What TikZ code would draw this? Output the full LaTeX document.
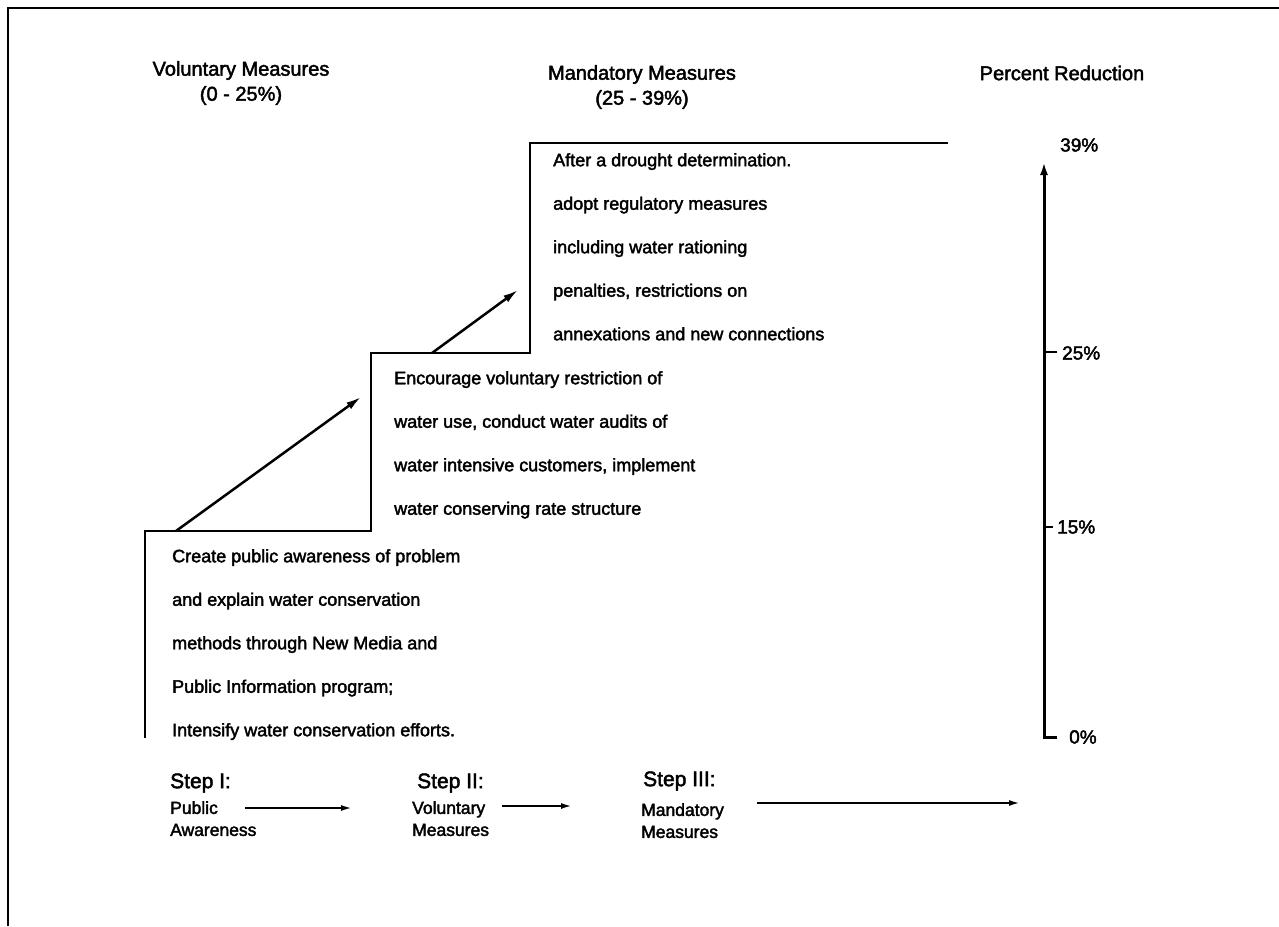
\documentclass[tikz,border=0pt]{standalone}
\usepackage{fontspec}
\setmainfont{Liberation Sans}[FakeBold=2.2]
\usetikzlibrary{arrows.meta}

\tikzset{
  head/.style={font=\fontsize{20}{25}\selectfont, align=center},
  body/.style={font=\fontsize{18}{43.5}\selectfont, align=left, anchor=north west, inner sep=0pt},
  pct/.style={font=\fontsize{19}{22}\selectfont, anchor=west, inner sep=0pt},
  steptitle/.style={font=\fontsize{21}{24}\selectfont, anchor=west, inner sep=0pt},
  stepsub/.style={font=\fontsize{17.5}{22}\selectfont, align=left, anchor=north west, inner sep=0pt},
  stair/.style={line width=2pt},
  rise/.style={line width=2.5pt, -{Latex[length=15pt,width=8pt]}},
  flow/.style={line width=2pt, -{Latex[length=11pt,width=6pt]}}
}

\begin{document}
\begin{tikzpicture}[x=1pt,y=-1pt]
\useasboundingbox (0,0) rectangle (1279,926);
% Frame
\draw[line width=2.5pt] (8,926) -- (8,8) -- (1279,8);
% Headings
\node[head] (volhead) at (241,83) {Voluntary Measures\\(0 - 25\%)};
\node[head] (manhead) at (642,87) {Mandatory Measures\\(25 - 39\%)};
\node[head] (pcthead) at (1062,73) {Percent Reduction};
% Steps
\draw[stair] (145,738) -- (145,531) -- (371,531) -- (371,353) -- (530,353) -- (530,143) -- (948,143);
\coordinate (up1s) at (176,531);
\coordinate (up1e) at (361,397);
\coordinate (up2s) at (432,353);
\coordinate (up2e) at (518,290);
\draw[rise] (up1s) -- (up1e);
\draw[rise] (up2s) -- (up2e);
% Step texts
\node[body] (txt1) at (172,549) {Create public awareness of problem\\and explain water conservation\\methods through New Media and\\Public Information program;\\Intensify water conservation efforts.};
\node[body] (txt2) at (394,371) {Encourage voluntary restriction of\\water use, conduct water audits of\\water intensive customers, implement\\water conserving rate structure};
\node[body] (txt3) at (553,153) {After a drought determination.\\adopt regulatory measures\\including water rationing\\penalties, restrictions on\\annexations and new connections};
% Percent axis
\coordinate (ax0) at (1057,737);
\coordinate (axbase) at (1044,737);
\coordinate (axtop) at (1044,162);
\draw[line width=3pt, -{Latex[length=13pt,width=8pt]}] (ax0) -- (axbase) -- (axtop);
\draw[line width=2.5pt] (1044,352) -- (1057,352);
\draw[line width=2.5pt] (1044,527) -- (1053,527);
\node[pct] (p39) at (1060,145) {39\%};
\node[pct] (p25) at (1062,353) {25\%};
\node[pct] (p15) at (1057,527) {15\%};
\node[pct] (p0) at (1069,737) {0\%};
% Bottom steps
\node[steptitle] (s1) at (170,783) {Step I:};
\node[stepsub] (s1txt) at (170,801) {Public\\Awareness};
\node[steptitle] (s2) at (417,783) {Step II:};
\node[stepsub] (s2txt) at (412,801) {Voluntary\\Measures};
\node[steptitle] (s3) at (643,781) {Step III:};
\node[stepsub] (s3txt) at (641,803) {Mandatory\\Measures};
\coordinate (f1s) at (245,808);
\coordinate (f1e) at (352,808);
\coordinate (f2s) at (502,806);
\coordinate (f2e) at (572,806);
\coordinate (f3s) at (757,803);
\coordinate (f3e) at (1020,803);
\draw[flow] (f1s) -- (f1e);
\draw[flow] (f2s) -- (f2e);
\draw[flow] (f3s) -- (f3e);
\end{tikzpicture}
\end{document}
